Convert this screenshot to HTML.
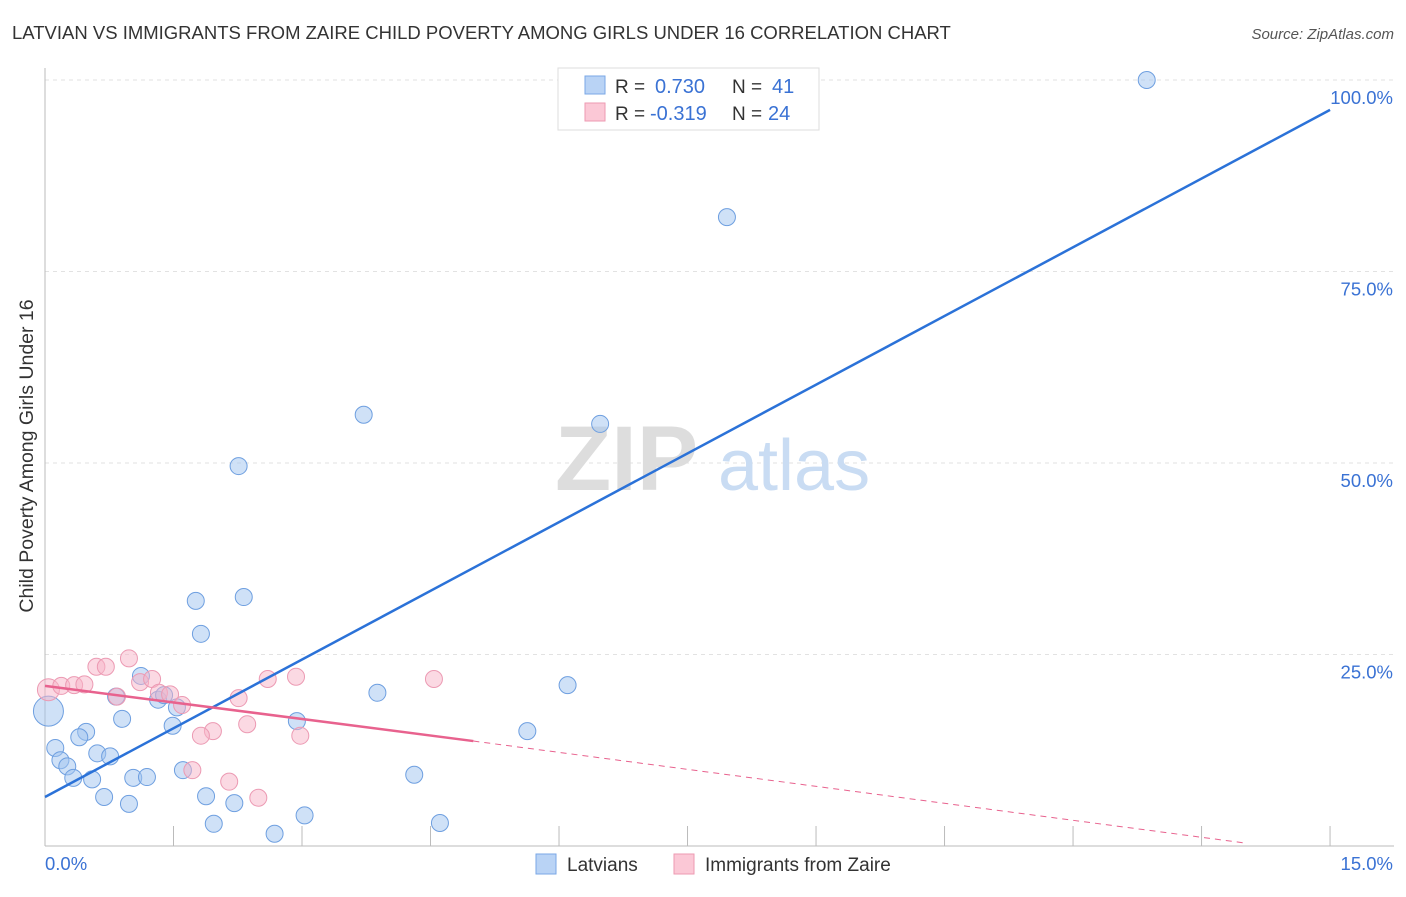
<!DOCTYPE html>
<html><head><meta charset="utf-8"><style>
body{margin:0;background:#fff;font-family:"Liberation Sans",sans-serif;}
svg text{font-family:"Liberation Sans",sans-serif;}
</style></head><body>
<svg id="chart" width="1406" height="892" xmlns="http://www.w3.org/2000/svg">
<text x="12" y="39" font-size="18.5" fill="#333">LATVIAN VS IMMIGRANTS FROM ZAIRE CHILD POVERTY AMONG GIRLS UNDER 16 CORRELATION CHART</text>
<text x="1394" y="39" font-size="15" fill="#555" font-style="italic" text-anchor="end">Source: ZipAtlas.com</text>
<text x="33" y="456" font-size="19.5" fill="#333" text-anchor="middle" transform="rotate(-90 33 456)">Child Poverty Among Girls Under 16</text>
<g id="grid"></g>
<g><text x="555" y="490" font-size="92" fill="#ddd" font-family="Liberation Serif" font-weight="bold">ZIP</text><text x="718" y="490" font-size="72" fill="#c9dcf3">atlas</text></g>
<g id="axes"></g>
<g id="marks"></g>
<g id="lines"></g>
<g>
<rect x="558" y="68" width="261" height="62" fill="#fff" stroke="#ddd"/>
<rect x="585" y="76" width="20" height="18" fill="#b9d3f5" stroke="#7aa7e6"/>
<text x="615" y="93" font-size="19" fill="#333">R =</text><text x="655" y="93" font-size="20" fill="#3a72d4">0.730</text>
<text x="732" y="93" font-size="19" fill="#333">N =</text><text x="772" y="93" font-size="20" fill="#3a72d4">41</text>
<rect x="585" y="103" width="20" height="18" fill="#fbc8d6" stroke="#ee9ab2"/>
<text x="615" y="120" font-size="19" fill="#333">R =</text><text x="650" y="120" font-size="20" fill="#3a72d4">-0.319</text>
<text x="732" y="120" font-size="19" fill="#333">N =</text><text x="768" y="120" font-size="20" fill="#3a72d4">24</text>
</g>
<g>
<rect x="536" y="854" width="20" height="20" fill="#b9d3f5" stroke="#7aa7e6"/>
<text x="567" y="871" font-size="19" fill="#333">Latvians</text>
<rect x="674" y="854" width="20" height="20" fill="#fbc8d6" stroke="#ee9ab2"/>
<text x="705" y="871" font-size="19" fill="#333">Immigrants from Zaire</text>
</g>
</svg>
<script>
const latX=[12.86,7.96,3.72,6.48,2.26,1.76,2.32,1.82,1.12,0.83,1.32,1.39,1.54,3.88,6.10,2.94,5.63,0.90,1.49,0.48,0.40,0.12,0.61,0.76,0.18,0.26,1.61,0.33,0.55,1.03,1.19,4.31,0.69,0.98,1.88,2.21,1.97,3.03,4.61,2.68,0.04];
const latY=[100,82.1,56.3,55.1,49.6,32.0,32.5,27.7,22.2,19.5,19.1,19.7,18.1,20.0,21.0,16.3,15.0,16.6,15.7,14.9,14.2,12.8,12.1,11.7,11.2,10.4,9.9,8.9,8.7,8.9,9.0,9.3,6.4,5.5,6.5,5.6,2.9,4.0,3.0,1.6,17.6];
const zaiX=[0.04,0.19,0.34,0.46,0.60,0.71,0.98,1.11,1.25,0.84,1.33,1.46,1.60,2.60,2.93,4.54,2.26,2.36,1.96,1.82,2.98,1.72,2.15,2.49];
const zaiY=[20.4,20.9,21.0,21.1,23.4,23.4,24.5,21.4,21.8,19.5,20.0,19.8,18.4,21.8,22.1,21.8,19.3,15.9,15.0,14.4,14.4,9.9,8.4,6.3];
const yTicks=[25,50,75,100];
const yTickLabels=["25.0%","50.0%","75.0%","100.0%"];
const latTrend=[[0,6.4],[15,96.1]];
const zaiTrendSolid=[[0,20.9],[5.0,13.7]];
const zaiTrendDash=[[5.0,13.7],[14.0,0.4]];
const NS="http://www.w3.org/2000/svg";
const sx=v=>45+v*85.67, sy=v=>846-v*7.66;
function mk(t,a,p){const e=document.createElementNS(NS,t);for(const k in a)e.setAttribute(k,a[k]);p.appendChild(e);return e;}
const grid=document.getElementById('grid'),axes=document.getElementById('axes'),marks=document.getElementById('marks'),lines=document.getElementById('lines');
yTicks.forEach((t,i)=>{
 const l=mk('line',{x1:45,x2:1394,y1:sy(t),y2:sy(t),stroke:'#e2e2e2','stroke-dasharray':'4,4'},grid);
 
 
 const tx=mk('text',{x:1393,y:sy(t)+24,'font-size':18.5,fill:'#3a72d4','text-anchor':'end'},axes);tx.textContent=yTickLabels[i];
 
 
});
mk('line',{x1:45,x2:45,y1:68,y2:846,stroke:'#bbb'},axes);
mk('line',{x1:45,x2:1394,y1:846,y2:846,stroke:'#bbb'},axes);
for(let i=0;i<=10;i++){const t=mk('line',{x1:sx(i*1.5),x2:sx(i*1.5),y1:826,y2:846,stroke:'#bbb'},axes);
 
 }
const x0=mk('text',{x:45,y:870,'font-size':18.5,fill:'#3a72d4'},axes);x0.textContent='0.0%';


const x1=mk('text',{x:1393,y:870,'font-size':18.5,fill:'#3a72d4','text-anchor':'end'},axes);x1.textContent='15.0%';


latX.forEach((x,i)=>{const r=i===latX.length-1?15:8.5;
 const c=mk('circle',{cx:sx(x),cy:sy(latY[i]),r:r,fill:'rgba(160,196,240,0.5)',stroke:'#6e9fe0','stroke-width':1},marks);
 
 });
zaiX.forEach((x,i)=>{const r=i===0?11:8.5;
 const c=mk('circle',{cx:sx(x),cy:sy(zaiY[i]),r:r,fill:'rgba(248,180,200,0.5)',stroke:'#ec9ab3','stroke-width':1},marks);
 
 });
const bl=mk('line',{x1:sx(latTrend[0][0]),y1:sy(latTrend[0][1]),x2:sx(latTrend[1][0]),y2:sy(latTrend[1][1]),stroke:'#2b72d8','stroke-width':2.5},lines);


const pl=mk('line',{x1:sx(zaiTrendSolid[0][0]),y1:sy(zaiTrendSolid[0][1]),x2:sx(zaiTrendSolid[1][0]),y2:sy(zaiTrendSolid[1][1]),stroke:'#e8628e','stroke-width':2.5},lines);


const pd=mk('line',{x1:sx(zaiTrendDash[0][0]),y1:sy(zaiTrendDash[0][1]),x2:sx(zaiTrendDash[1][0]),y2:sy(zaiTrendDash[1][1]),stroke:'#e8628e','stroke-width':1,'stroke-dasharray':'6,5'},lines);


</script>
</body></html>
